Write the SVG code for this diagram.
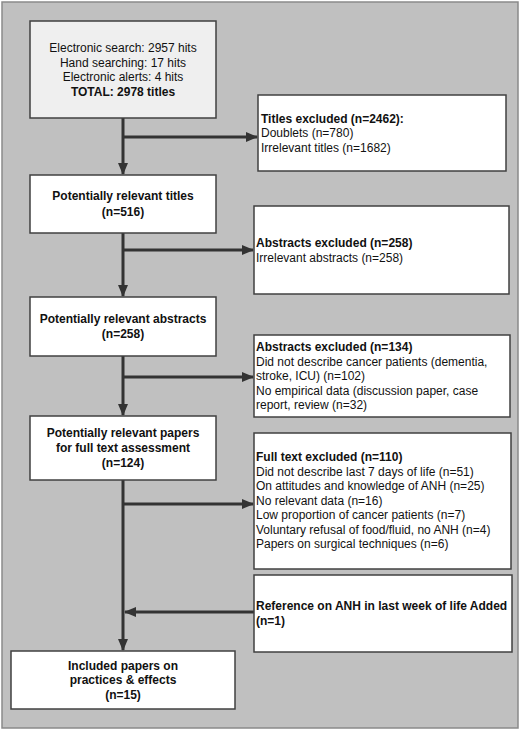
<svg xmlns="http://www.w3.org/2000/svg" width="520" height="730" viewBox="0 0 520 730">
<style>
.box{fill:#ffffff;stroke:#404040;stroke-width:1.5}
.t{font-family:"Liberation Sans",Arial,sans-serif;font-size:12px;fill:#111}
.c{text-anchor:middle}
.b{font-weight:bold}
.ln{stroke:#333;stroke-width:3;fill:none}
</style>
<defs>
<marker id="ah" markerUnits="userSpaceOnUse" markerWidth="12" markerHeight="10" refX="11" refY="5" orient="auto">
<path d="M0,0 L12,5 L0,10 z" fill="#333"/>
</marker>
</defs>
<rect x="2" y="2" width="516" height="726" fill="#c0c0c0" stroke="#8a8a8a" stroke-width="1.5"/>
<g id="connectors">
<line class="ln" x1="123" y1="118" x2="123" y2="174" marker-end="url(#ah)"/>
<line class="ln" x1="123" y1="137" x2="257" y2="137" marker-end="url(#ah)"/>
<line class="ln" x1="123" y1="233" x2="123" y2="296" marker-end="url(#ah)"/>
<line class="ln" x1="123" y1="250" x2="253" y2="250" marker-end="url(#ah)"/>
<line class="ln" x1="123" y1="356" x2="123" y2="415" marker-end="url(#ah)"/>
<line class="ln" x1="123" y1="377" x2="253" y2="377" marker-end="url(#ah)"/>
<line class="ln" x1="123" y1="480" x2="123" y2="650" marker-end="url(#ah)"/>
<line class="ln" x1="123" y1="504" x2="253" y2="504" marker-end="url(#ah)"/>
<line class="ln" x1="254" y1="612" x2="125" y2="612" marker-end="url(#ah)"/>
</g>
<g id="search">
<rect class="box" x="30" y="21" width="186" height="97" style="fill:#efefef"/>
<text class="t c" x="123" y="52">Electronic search: 2957 hits</text>
<text class="t c" x="123" y="66.5">Hand searching: 17 hits</text>
<text class="t c" x="123" y="81">Electronic alerts: 4 hits</text>
<text class="t c b" x="123" y="95.5">TOTAL: 2978 titles</text>
</g>
<g id="titles-excluded">
<rect class="box" x="258" y="95" width="248" height="76"/>
<text class="t b" x="261" y="122.5">Titles excluded (n=2462):</text>
<text class="t" x="261" y="137">Doublets (n=780)</text>
<text class="t" x="261" y="151.5">Irrelevant titles (n=1682)</text>
</g>
<g id="titles">
<rect class="box" x="30" y="175" width="186" height="58"/>
<text class="t c b" x="123" y="200">Potentially relevant titles</text>
<text class="t c b" x="123" y="216">(n=516)</text>
</g>
<g id="abstracts-excluded-258">
<rect class="box" x="254" y="206" width="255" height="88"/>
<text class="t b" x="256" y="247">Abstracts excluded (n=258)</text>
<text class="t" x="256" y="261.5">Irrelevant abstracts (n=258)</text>
</g>
<g id="abstracts">
<rect class="box" x="30" y="297" width="186" height="59"/>
<text class="t c b" x="123" y="323">Potentially relevant abstracts</text>
<text class="t c b" x="123" y="338">(n=258)</text>
</g>
<g id="abstracts-excluded-134">
<rect class="box" x="254" y="335" width="256" height="82"/>
<text class="t b" x="256" y="351">Abstracts excluded (n=134)</text>
<text class="t" x="256" y="365.5">Did not describe cancer patients (dementia,</text>
<text class="t" x="256" y="380">stroke, ICU) (n=102)</text>
<text class="t" x="256" y="394.5">No empirical data (discussion paper, case</text>
<text class="t" x="256" y="409">report, review (n=32)</text>
</g>
<g id="papers">
<rect class="box" x="30" y="416" width="186" height="64"/>
<text class="t c b" x="123" y="437">Potentially relevant papers</text>
<text class="t c b" x="123" y="451.5">for full text assessment</text>
<text class="t c b" x="123" y="467">(n=124)</text>
</g>
<g id="fulltext-excluded">
<rect class="box" x="254" y="433" width="257" height="136"/>
<text class="t b" x="256" y="461">Full text excluded (n=110)</text>
<text class="t" x="256" y="475.5">Did not describe last 7 days of life (n=51)</text>
<text class="t" x="256" y="490">On attitudes and knowledge of ANH (n=25)</text>
<text class="t" x="256" y="504.5">No relevant data (n=16)</text>
<text class="t" x="256" y="519">Low proportion of cancer patients (n=7)</text>
<text class="t" x="256" y="533.5">Voluntary refusal of food/fluid, no ANH (n=4)</text>
<text class="t" x="256" y="548">Papers on surgical techniques (n=6)</text>
</g>
<g id="reference-added">
<rect class="box" x="254" y="575" width="258" height="77"/>
<text class="t b" x="256" y="610">Reference on ANH in last week of life Added</text>
<text class="t b" x="256" y="624.5">(n=1)</text>
</g>
<g id="included">
<rect class="box" x="11" y="651" width="224" height="58"/>
<text class="t c b" x="123" y="670">Included papers on</text>
<text class="t c b" x="123" y="684">practices &amp; effects</text>
<text class="t c b" x="123" y="699">(n=15)</text>
</g>
</svg>
